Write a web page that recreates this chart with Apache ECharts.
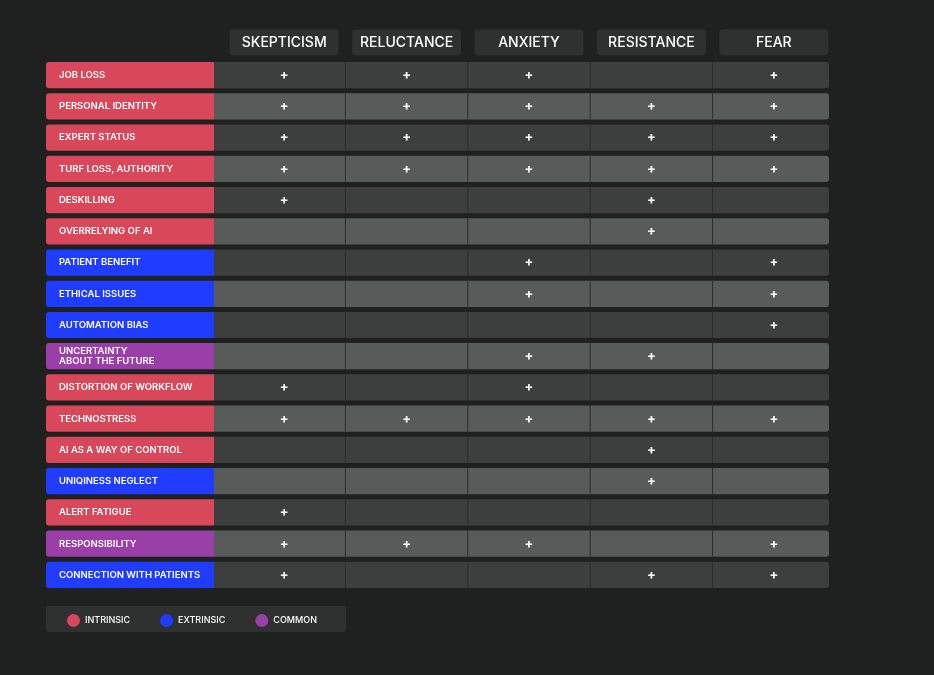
<!DOCTYPE html>
<html>
<head>
<meta charset="utf-8">
<script src="https://cdn.jsdelivr.net/npm/echarts@6/dist/echarts.min.js"></script>
<style>
  html, body { margin: 0; padding: 0; background: #1f2120; }
  #main { width: 934px; height: 675px; }
</style>
</head>
<body>
<div id="main"></div>
<script>
var columns = ['SKEPTICISM', 'RELUCTANCE', 'ANXIETY', 'RESISTANCE', 'FEAR'];
var rows = ['JOB LOSS', 'PERSONAL IDENTITY', 'EXPERT STATUS', 'TURF LOSS, AUTHORITY', 'DESKILLING',
  'OVERRELYING OF AI', 'PATIENT BENEFIT', 'ETHICAL ISSUES', 'AUTOMATION BIAS',
  'UNCERTAINTY\nABOUT THE FUTURE', 'DISTORTION OF WORKFLOW', 'TECHNOSTRESS', 'AI AS A WAY OF CONTROL',
  'UNIQINESS NEGLECT', 'ALERT FATIGUE', 'RESPONSIBILITY', 'CONNECTION WITH PATIENTS'];
// I = intrinsic, E = extrinsic, C = common
var rowTypes = ['I', 'I', 'I', 'I', 'I', 'I', 'E', 'E', 'E', 'C', 'I', 'I', 'I', 'E', 'I', 'C', 'E'];
// 1 = "+" for SKEPTICISM, RELUCTANCE, ANXIETY, RESISTANCE, FEAR
var marks = [
  [1, 1, 1, 0, 1],
  [1, 1, 1, 1, 1],
  [1, 1, 1, 1, 1],
  [1, 1, 1, 1, 1],
  [1, 0, 0, 1, 0],
  [0, 0, 0, 1, 0],
  [0, 0, 1, 0, 1],
  [0, 0, 1, 0, 1],
  [0, 0, 0, 0, 1],
  [0, 0, 1, 1, 0],
  [1, 0, 1, 0, 0],
  [1, 1, 1, 1, 1],
  [0, 0, 0, 1, 0],
  [0, 0, 0, 1, 0],
  [1, 0, 0, 0, 0],
  [1, 1, 1, 0, 1],
  [1, 0, 0, 1, 1]
];
var typeNames = { I: 'INTRINSIC', E: 'EXTRINSIC', C: 'COMMON' };
var typeColors = { I: '#d9475a', E: '#1f3cff', C: '#9b3fa8' };

var FONT = 'Inter, "Noto Sans", sans-serif';
var chart = echarts.init(document.getElementById('main'));

var plusData = [];
marks.forEach(function (r, i) {
  r.forEach(function (v, j) { if (v) plusData.push([j, i]); });
});

function labelSeries(t) {
  var data = [];
  rows.forEach(function (r, i) { if (rowTypes[i] === t) data.push([i, r]); });
  return {
    name: typeNames[t],
    type: 'custom',
    itemStyle: { color: typeColors[t] },
    data: data,
    encode: { y: 0 },
    renderItem: function (params, api) {
      var c = api.coord([0, api.value(0)]);
      var h = api.size([0, 1])[1] - 5;
      return {
        type: 'group',
        children: [{
          type: 'rect',
          shape: { x: 46, y: c[1] - h / 2, width: 168, height: h, r: [3, 0, 0, 3] },
          style: { fill: typeColors[t] }
        }, {
          type: 'text',
          style: {
            x: 59, y: c[1], text: rows[api.value(0)], fill: '#ffffff',
            font: '600 9.5px ' + FONT, verticalAlign: 'middle', lineHeight: 10
          }
        }]
      };
    }
  };
}

chart.setOption({
  backgroundColor: '#1f2120',
  animation: false,
  grid: { left: 223, right: 99, top: 59.5, bottom: 84.5 },
  xAxis: {
    type: 'category', data: columns, position: 'top',
    axisLine: { show: false }, axisTick: { show: false },
    splitLine: { show: false },
    axisLabel: {
      interval: 0,
      margin: 4, color: '#ffffff', fontFamily: FONT, fontSize: 14, fontWeight: 500,
      backgroundColor: '#2e3130', borderRadius: 4,
      width: 109, height: 26, lineHeight: 26, align: 'center'
    }
  },
  yAxis: {
    type: 'category', data: rows, inverse: true, show: false
  },
  legend: {
    left: 62, top: 609, icon: 'circle', itemWidth: 13, itemHeight: 13, itemGap: 30,
    selectedMode: false,
    textStyle: { color: '#ffffff', fontFamily: FONT, fontSize: 9, fontWeight: 500 },
    data: ['INTRINSIC', 'EXTRINSIC', 'COMMON']
  },
  graphic: [{
    type: 'rect', z: -1,
    shape: { x: 46, y: 606, width: 300, height: 26, r: 3 },
    style: { fill: '#2e3130' }
  }],
  series: [{
    type: 'custom',
    data: rows.map(function (r, i) { return [i]; }),
    encode: { y: 0 },
    z: 1,
    renderItem: function (params, api) {
      var i = api.value(0);
      var c = api.coord([0, i]);
      var h = api.size([0, 1])[1] - 5;
      var w = api.size([1, 0])[0];
      var y0 = c[1] - h / 2;
      var children = [{
        type: 'rect',
        shape: { x: 214, y: y0, width: 615, height: h, r: [0, 3, 3, 0] },
        style: { fill: i % 2 === 0 ? '#3c3f3d' : '#575b59' }
      }];
      for (var j = 1; j < columns.length; j++) {
        var x = api.coord([j, i])[0] - w / 2;
        children.push({
          type: 'line',
          shape: { x1: x, y1: y0, x2: x, y2: y0 + h },
          style: { stroke: '#2b2e2d', lineWidth: 1 }
        });
      }
      return { type: 'group', children: children };
    }
  },
  labelSeries('I'), labelSeries('E'), labelSeries('C'),
  {
    type: 'custom',
    data: plusData,
    z: 3,
    renderItem: function (params, api) {
      var c = api.coord([api.value(0), api.value(1)]);
      return {
        type: 'text',
        style: {
          x: c[0], y: c[1], text: '+', fill: '#ffffff',
          font: 'bold 13px ' + FONT, align: 'center', verticalAlign: 'middle'
        }
      };
    }
  }]
});
</script>
</body>
</html>
